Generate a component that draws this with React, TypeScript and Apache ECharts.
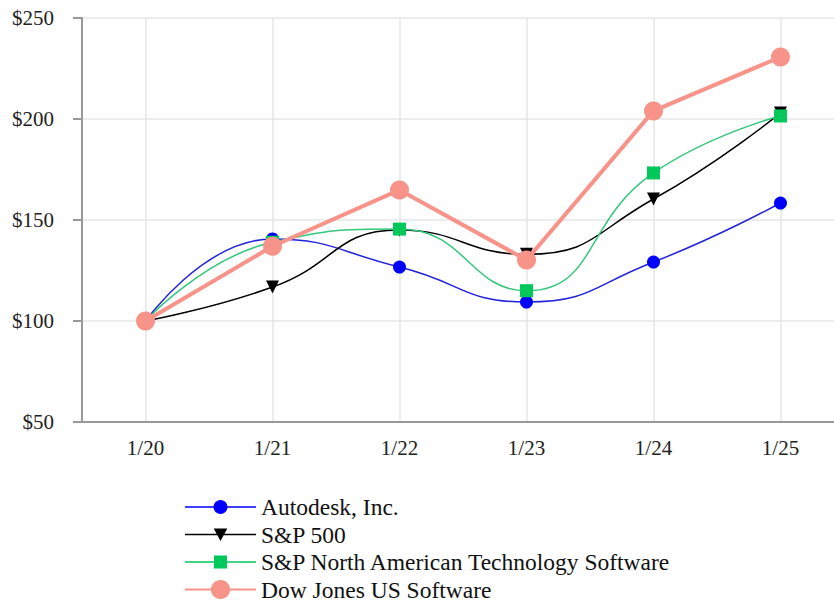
import React, { useEffect, useRef } from "react";
import * as echarts from "echarts";

const categories = ["1/20", "1/21", "1/22", "1/23", "1/24", "1/25"];
const autodesk = [100, 140.6, 126.7, 109.4, 129.2, 158.4];
const sp500 = [100, 116.8, 145, 133, 160.4, 203];
const spTech = [100, 139, 145.5, 115, 173.3, 201.5];
const dowJones = [100, 137, 164.9, 130.2, 204, 230.7];
const seriesNames = [
  "Autodesk, Inc.",
  "S&P 500",
  "S&P North American Technology Software",
  "Dow Jones US Software",
];

const FONT = "Liberation Serif";

// legend icons: a 710x240 box (same aspect as itemWidth x itemHeight) holding a thin line and a small marker
const BOX = "M0,0M710,240";
const LINE = "M0,112L710,112L710,128L0,128Z";
const ICON_CIRCLE = "path://" + BOX + LINE + "M355,50A70,70 0 1,1 354.9,50Z";
const ICON_TRI = "path://" + BOX + LINE + "M287,60L423,60L355,185Z";
const ICON_RECT = "path://" + BOX + LINE + "M290,55L420,55L420,185L290,185Z";

export default function App() {
  const ref = useRef<HTMLDivElement>(null);
  useEffect(() => {
    if (!ref.current) return;
    const chart = echarts.init(ref.current, undefined, { renderer: "svg" });
    chart.setOption({
      animation: false,
      backgroundColor: "#ffffff",
      textStyle: { fontFamily: FONT },
      grid: {
        left: 82,
        top: 18,
        width: 762,
        bottom: 181,
        containLabel: false,
        outerBoundsMode: "none",
      },
      legend: {
        orient: "vertical",
        left: 184,
        top: 495,
        height: 130,
        padding: 0,
        itemWidth: 71,
        itemHeight: 24,
        itemGap: 3.5,
        textStyle: { fontFamily: FONT, fontSize: 23.5, color: "#111" },
        data: [
          { name: seriesNames[0], icon: ICON_CIRCLE },
          { name: seriesNames[1], icon: ICON_TRI },
          { name: seriesNames[2], icon: ICON_RECT },
          { name: seriesNames[3] },
        ],
      },
      xAxis: {
        type: "category",
        data: categories,
        boundaryGap: true,
        axisLine: { lineStyle: { color: "#999", width: 2 } },
        axisTick: { alignWithLabel: true, length: 8, lineStyle: { color: "#999", width: 2 } },
        axisLabel: { fontFamily: FONT, fontSize: 21, color: "#222", margin: 15 },
        splitLine: { show: true, alignWithLabel: true, lineStyle: { color: "#e6e6e6", width: 1.5 } },
      },
      yAxis: {
        type: "value",
        min: 50,
        max: 250,
        interval: 50,
        axisLine: { show: true, lineStyle: { color: "#999", width: 2 } },
        axisTick: { show: true, length: 9, lineStyle: { color: "#999", width: 2 } },
        axisLabel: {
          fontFamily: FONT,
          fontSize: 21,
          color: "#222",
          margin: 28,
          formatter: (v: number) => "$" + v,
        },
        splitLine: { show: true, lineStyle: { color: "#e6e6e6", width: 1.5 } },
      },
      series: [
        {
          name: seriesNames[0],
          type: "line",
          data: autodesk,
          smooth: true,
          symbol: "circle",
          symbolSize: 13,
          lineStyle: { color: "#2222dd", width: 1.5 },
          itemStyle: { color: "#0000ff" },
        },
        {
          name: seriesNames[1],
          type: "line",
          data: sp500,
          smooth: true,
          symbol: "triangle",
          symbolRotate: 180,
          symbolSize: 13,
          lineStyle: { color: "#000000", width: 1.5 },
          itemStyle: { color: "#000000" },
        },
        {
          name: seriesNames[2],
          type: "line",
          data: spTech,
          smooth: true,
          symbol: "rect",
          symbolSize: 13,
          lineStyle: { color: "#33c77a", width: 1.5 },
          itemStyle: { color: "#00c85a" },
        },
        {
          name: seriesNames[3],
          type: "line",
          data: dowJones,
          smooth: false,
          symbol: "circle",
          symbolSize: 19,
          lineStyle: { color: "#f8938a", width: 4 },
          itemStyle: { color: "#f8938a" },
        },
      ],
    });
    return () => chart.dispose();
  }, []);
  return (
    <div
      ref={ref}
      style={{ position: "absolute", left: 0, top: 0, width: 834, height: 603 }}
    />
  );
}
